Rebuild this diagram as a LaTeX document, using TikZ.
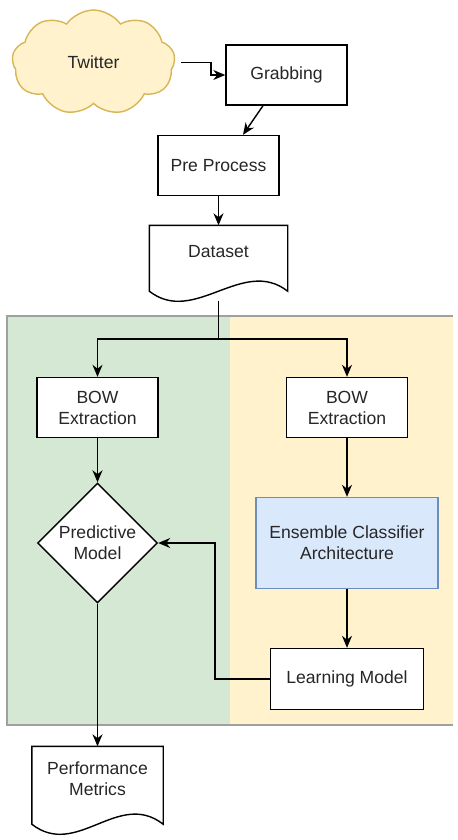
\documentclass[tikz,border=0pt]{standalone}
\usepackage{fontspec}
\setmainfont{Liberation Sans}
\usetikzlibrary{arrows.meta,positioning,shapes.geometric,shapes.symbols}
\definecolor{greenbg}{HTML}{D5E8D4}
\definecolor{yellowbg}{HTML}{FFF2CC}
\definecolor{cloudline}{HTML}{D6B656}
\definecolor{bluefill}{HTML}{DAE8FC}
\definecolor{blueline}{HTML}{6C8EBF}
\definecolor{framegray}{HTML}{A0A0A0}

\begin{document}
\begin{tikzpicture}[>={Stealth[length=2.4mm,width=2mm]}, on grid, thick,
  font=\fontsize{10}{12}\selectfont, text=black!85,
  box/.style={draw, fill=white, minimum width=2.42cm, minimum height=1.2cm, align=center, inner sep=1pt},
  doc/.style={minimum width=#1, minimum height=1.04cm, align=center, inner sep=1pt,
    append after command={\pgfextra{\draw (\tikzlastnode.north west) -- ([yshift=-0.25cm]\tikzlastnode.south west)
      .. controls +(0.9,-0.7) and +(-0.9,0.7) .. ([yshift=-0.25cm]\tikzlastnode.south east)
      -- (\tikzlastnode.north east) -- cycle;}}},
  decision/.style={diamond, draw, fill=white, aspect=1, minimum size=2.4cm, inner sep=0pt, align=center}]
  \useasboundingbox (0,0) rectangle (9.14,-16.8);
  \fill[greenbg] (0.14,-6.32) rectangle (4.6,-14.5);
  \fill[yellowbg] (4.6,-6.32) rectangle (9.06,-14.5);
  \draw[framegray, line width=0.8pt] (9.06,-6.32) -- (0.14,-6.32) -- (0.14,-14.5) -- (9.06,-14.5);

  \node[cloud, cloud puffs=9, cloud puff arc=110, draw=cloudline, fill=yellowbg, minimum width=3.26cm, minimum height=2.1cm] (twitter) at (1.87,-1.25) {Twitter};
  \node[box] (grab) at (5.73,-1.5) {Grabbing};
  \node[box] (pre) [below left=1.81cm and 1.36cm of grab] {Pre Process};
  \node[doc=2.74cm] (dataset) [below=1.73cm of pre] {Dataset};
  \coordinate (split) at ([yshift=-3.47cm]pre.center);
  \node[box] (bowL) at (1.95,-8.15) {BOW\\Extraction};
  \node[box] (bowR) [right=4.99cm of bowL] {BOW\\Extraction};
  \node[decision] (pred) [below=2.71cm of bowL] {Predictive\\Model};
  \node[box, fill=bluefill, draw=blueline, minimum width=3.64cm, minimum height=1.82cm] (ens) [below=2.71cm of bowR] {Ensemble Classifier\\Architecture};
  \node[box, minimum width=3.06cm, minimum height=1.22cm] (learn) [below=2.72cm of ens] {Learning Model};
  \node[doc=2.6cm, minimum height=1.28cm] (perf) [below=4.72cm of pred] {Performance\\Metrics};

  \draw[->] ([xshift=0.12cm]twitter.east) -- ++(0.6,0) |- (grab.west);
  \draw[->] ([xshift=-0.47cm]grab.south) -- ([xshift=0.49cm]pre.north);
  \draw[->] (pre) -- (dataset);
  \draw ([yshift=-0.44cm]dataset.south) -- (split);
  \draw[->] (split) -| (bowL);
  \draw[->] (split) -| (bowR);
  \draw[->] (bowL) -- (pred);
  \draw[->] (bowR) -- (ens);
  \draw[->] (ens) -- (learn);
  \draw[->] (learn.west) -- ++(-1.1,0) |- (pred.east);
  \draw[->] (pred) -- (perf);
\end{tikzpicture}
\end{document}
